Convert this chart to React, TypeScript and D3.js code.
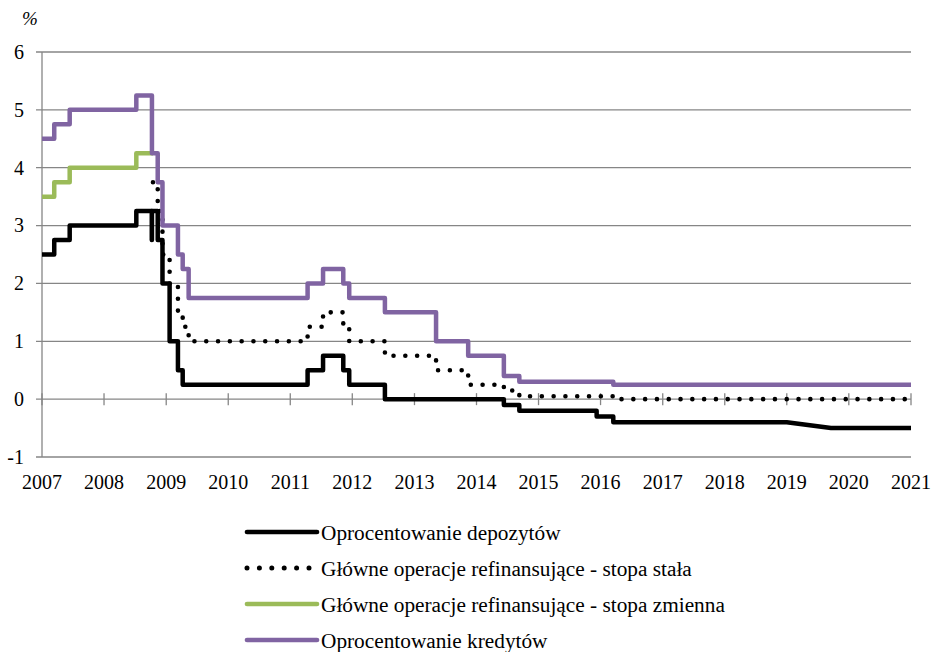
import React from "react";
import * as d3 from "d3";

// ---- data (change dates and rates, %) ----
const depositDates = ["2007-01-01","2007-03-14","2007-06-13","2008-07-09","2008-10-08","2008-10-09","2008-11-12","2008-12-10","2009-01-21","2009-03-11","2009-04-08","2011-04-13","2011-07-13","2011-11-09","2011-12-14","2012-07-11","2014-06-11","2014-09-10","2015-12-09","2016-03-16","2019-01-01","2019-09-18","2021-01-01"];
const depositRates = [2.5,2.75,3.0,3.25,2.75,3.25,2.75,2.0,1.0,0.5,0.25,0.5,0.75,0.5,0.25,0.0,-0.1,-0.2,-0.3,-0.4,-0.4,-0.5,-0.5];
// points reached by a straight segment instead of a step
const depositRamp = [false,false,false,false,false,false,false,false,false,false,false,false,false,false,false,false,false,false,false,false,false,true,false];

const fixedDates = ["2008-10-15","2008-11-12","2008-12-10","2009-01-21","2009-03-11","2009-04-08","2009-05-13","2011-04-13","2011-07-13","2011-11-09","2011-12-14","2012-07-11","2013-05-08","2013-11-13","2014-06-11","2014-09-10","2016-03-16","2021-01-01"];
const fixedRates = [3.75,3.25,2.5,2.0,1.5,1.25,1.0,1.25,1.5,1.25,1.0,0.75,0.5,0.25,0.15,0.05,0.0,0.0];

const variableDates = ["2007-01-01","2007-03-14","2007-06-13","2008-07-09","2008-10-15"];
const variableRates = [3.5,3.75,4.0,4.25,4.25];

const lendingDates = ["2007-01-01","2007-03-14","2007-06-13","2008-07-09","2008-10-09","2008-11-12","2008-12-10","2009-03-11","2009-04-08","2009-05-13","2011-04-13","2011-07-13","2011-11-09","2011-12-14","2012-07-11","2013-05-08","2013-11-13","2014-06-11","2014-09-10","2016-03-16","2021-01-01"];
const lendingRates = [4.5,4.75,5.0,5.25,4.25,3.75,3.0,2.5,2.25,1.75,2.0,2.25,2.0,1.75,1.5,1.0,0.75,0.4,0.3,0.25,0.25];

const yTicks = [-1,0,1,2,3,4,5,6];
const years = d3.range(2007, 2022);

const legendLabels = [
  "Oprocentowanie depozytów",
  "Główne operacje refinansujące - stopa stała",
  "Główne operacje refinansujące - stopa zmienna",
  "Oprocentowanie kredytów",
];

const W = 935, H = 652;
const left = 42, right = 911, top = 52, bottom = 457;
const FONT = "'Liberation Serif', 'Times New Roman', serif";
const GRID = "#868686";
const PURPLE = "#8064A2";
const GREEN = "#9BBB59";

const parse = d3.timeParse("%Y-%m-%d");

function stepPoints(dates: string[], vals: number[], ramp?: boolean[]) {
  const pts: [Date, number][] = [];
  dates.forEach((d, i) => {
    const t = parse(d) as Date;
    if (i > 0 && !(ramp && ramp[i])) pts.push([t, vals[i - 1]]);
    pts.push([t, vals[i]]);
  });
  return pts;
}

export default function App() {
  const x = d3.scaleTime().domain([parse("2007-01-01") as Date, parse("2021-01-01") as Date]).range([left, right]);
  const y = d3.scaleLinear().domain([-1, 6]).range([bottom, top]);
  const line = d3.line<[Date, number]>().x(d => x(d[0])).y(d => y(d[1]));

  const dep = stepPoints(depositDates, depositRates, depositRamp);
  const fix = stepPoints(fixedDates, fixedRates);
  const vari = stepPoints(variableDates, variableRates);
  const lend = stepPoints(lendingDates, lendingRates);

  const legendY = [532, 568, 604, 640];

  return (
    <svg width={W} height={H} style={{ position: "absolute", left: 0, top: 0, background: "#fff" }}>
      {/* horizontal gridlines */}
      {yTicks.map(v => (
        <g key={v}>
          <line x1={left - 6} x2={right} y1={y(v)} y2={y(v)} stroke={GRID} strokeWidth={1.3} />
          <text x={24} y={y(v)} dy="0.34em" textAnchor="end" fontSize={20} style={{ fontFamily: FONT }}>{v}</text>
        </g>
      ))}
      {/* y axis */}
      <line x1={left} x2={left} y1={top} y2={bottom} stroke={GRID} strokeWidth={1.3} />
      {/* x ticks on zero line */}
      {years.map(yr => {
        const xx = x(parse(`${yr}-01-01`) as Date);
        return (
          <g key={yr}>
            <line x1={xx} x2={xx} y1={y(0) - 6} y2={y(0) + 6} stroke={GRID} strokeWidth={1.3} />
            <text x={xx} y={489} textAnchor="middle" fontSize={20} style={{ fontFamily: FONT }}>{yr}</text>
          </g>
        );
      })}
      <text x={22} y={25} fontSize={19} fontStyle="italic" style={{ fontFamily: FONT }}>%</text>

      {/* series */}
      <path d={line(dep) || ""} fill="none" stroke="#000" strokeWidth={4.5} strokeLinejoin="round" />
      <path d={line(fix) || ""} fill="none" stroke="#000" strokeWidth={4.6} strokeDasharray="0 11.8" strokeLinecap="round" />
      <path d={line(vari) || ""} fill="none" stroke={GREEN} strokeWidth={4.5} strokeLinejoin="round" />
      <path d={line(lend) || ""} fill="none" stroke={PURPLE} strokeWidth={4.5} strokeLinejoin="round" />

      {/* legend */}
      {legendLabels.map((lab, i) => {
        const ly = legendY[i];
        const color = i === 2 ? GREEN : i === 3 ? PURPLE : "#000";
        return (
          <g key={lab}>
            {i === 1 ? (
              <line x1={247} x2={310} y1={ly} y2={ly} stroke="#000" strokeWidth={5} strokeDasharray="0 12.4" strokeLinecap="round" />
            ) : (
              <line x1={247} x2={317} y1={ly} y2={ly} stroke={color} strokeWidth={4.7} strokeLinecap="round" />
            )}
            <text x={321} y={ly + 8} fontSize={21.3} style={{ fontFamily: FONT }}>{lab}</text>
          </g>
        );
      })}
    </svg>
  );
}
